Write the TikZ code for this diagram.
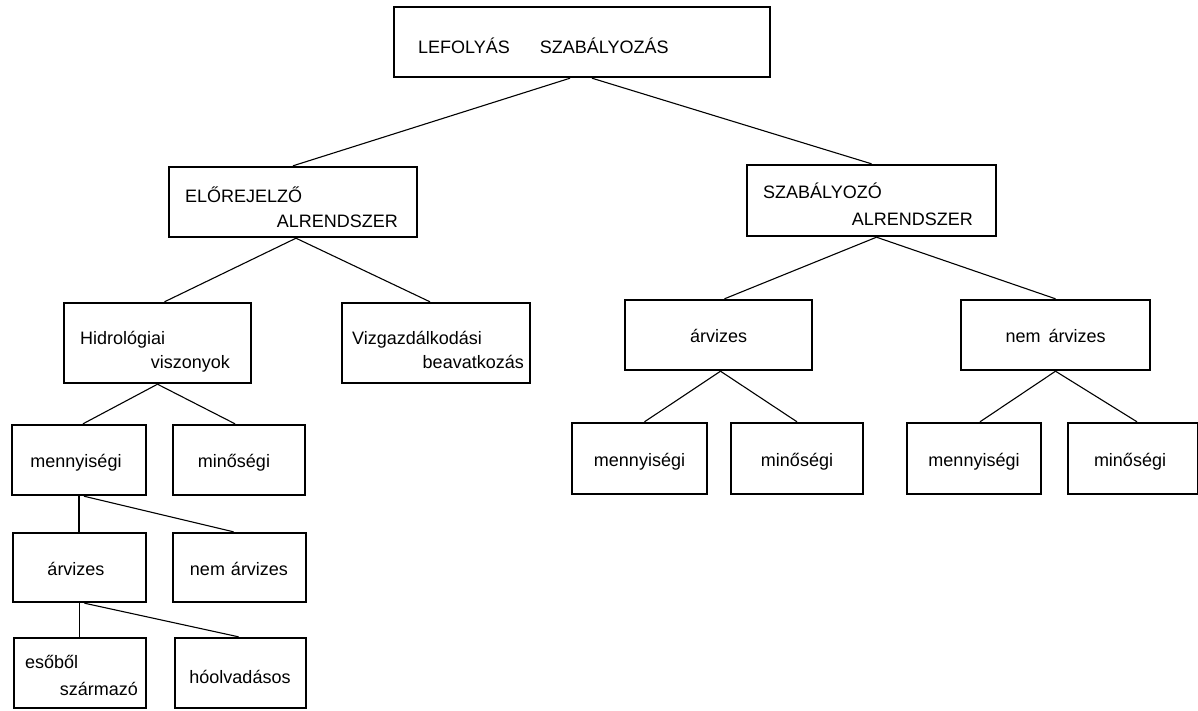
\documentclass[tikz,border=0pt]{standalone}
\usepackage{fontspec}
\setmainfont{Liberation Sans}
\begin{document}
\begin{tikzpicture}[x=1pt,y=-1pt,
  box/.style={draw=black,line width=2.4pt,rectangle,inner sep=0pt,minimum width=#1},
  box/.default=134pt,
  lbl/.style={font=\fontsize{18}{20}\selectfont,inner sep=0pt},
  conn/.style={line width=1.1pt,black}]
\useasboundingbox (0,0) rectangle (1198,710);
% boxes
\node[box=376pt,minimum height=70pt] (top) at (582,42) {};
\node[box=248pt,minimum height=70pt] (elo) at (293,202) {};
\node[box=249pt,minimum height=71pt] (szab) at (871.5,200.5) {};
\node[box=187pt,minimum height=80pt] (hidro) at (157.5,343) {};
\node[box=188pt,minimum height=80pt] (viz) at (436,343) {};
\node[box=187pt,minimum height=70pt] (arv) at (718.5,335) {};
\node[box=189pt,minimum height=70pt] (nemarv) at (1055.5,335) {};
\node[box=134pt,minimum height=70pt] (m1) at (79,460) {};
\node[box=132pt,minimum height=70pt] (q1) at (239,460) {};
\node[box=133pt,minimum height=69pt] (a1) at (79.5,567.5) {};
\node[box=133pt,minimum height=69pt] (na1) at (239.5,567.5) {};
\node[box=132pt,minimum height=70pt] (eso) at (80,673) {};
\node[box=131pt,minimum height=70pt] (ho) at (240.5,673) {};
\node[box=135pt,minimum height=71pt] (m2) at (639.5,458.5) {};
\node[box=132pt,minimum height=71pt] (q2) at (797,458.5) {};
\node[box=134pt,minimum height=71pt] (m3) at (974,458.5) {};
\node[box=130pt,minimum height=71pt] (q3) at (1133,458.5) {};
% texts
\node[lbl,anchor=base west] (ttop) at (418,53) {LEFOLYÁS\hspace{30pt}SZABÁLYOZÁS};
\node[lbl,anchor=base west] (telo1) at (185,202) {ELŐREJELZŐ};
\node[lbl,anchor=base east] (telo2) at (398,227) {ALRENDSZER};
\node[lbl,anchor=base west] (tszab1) at (763,198) {SZABÁLYOZÓ};
\node[lbl,anchor=base east] (tszab2) at (973,225) {ALRENDSZER};
\node[lbl,anchor=base west] (thidro1) at (80,344) {Hidrológiai};
\node[lbl,anchor=base east] (thidro2) at (230,368) {viszonyok};
\node[lbl,anchor=base west] (tviz1) at (352,344) {Vizgazdálkodási};
\node[lbl,anchor=base east] (tviz2) at (524,368) {beavatkozás};
\node[lbl,anchor=base] (tarv) at (718.5,342) {árvizes};
\node[lbl,anchor=base] (tnemarv) at (1055.5,342) {nem\hspace{8pt}árvizes};
\node[lbl,anchor=base] (tm1) at (76,467) {mennyiségi};
\node[lbl,anchor=base] (tq1) at (234,467) {minőségi};
\node[lbl,anchor=base] (ta1) at (76,575) {árvizes};
\node[lbl,anchor=base] (tna1) at (239,575) {nem\hspace{6pt}árvizes};
\node[lbl,anchor=base west] (teso1) at (25,668) {esőből};
\node[lbl,anchor=base east] (teso2) at (138,695) {származó};
\node[lbl,anchor=base] (tho) at (240,683) {hóolvadásos};
\node[lbl,anchor=base] (tm2) at (639.5,466) {mennyiségi};
\node[lbl,anchor=base] (tq2) at (797,466) {minőségi};
\node[lbl,anchor=base] (tm3) at (974,466) {mennyiségi};
\node[lbl,anchor=base] (tq3) at (1130,466) {minőségi};
% connectors
\draw[conn] ([xshift=-12pt]top.south) -- (elo.north);
\draw[conn] ([xshift=10pt]top.south) -- (szab.north);
\draw[conn] ([xshift=3pt]elo.south) -- ([xshift=7pt]hidro.north);
\draw[conn] ([xshift=3pt]elo.south) -- ([xshift=-6pt]viz.north);
\draw[conn] ([xshift=5pt]szab.south) -- ([xshift=6pt]arv.north);
\draw[conn] ([xshift=5pt]szab.south) -- (nemarv.north);
\draw[conn] (hidro.south) -- ([xshift=4pt]m1.north);
\draw[conn] (hidro.south) -- ([xshift=-4pt]q1.north);
\draw[conn] (m1.south) -- (m1.south |- a1.north);
\draw[conn] ([xshift=5pt]m1.south) -- ([xshift=-6pt]na1.north);
\draw[conn] (a1.south) -- (a1.south |- eso.north);
\draw[conn] ([xshift=5pt]a1.south) -- ([xshift=-2pt]ho.north);
\draw[conn] ([xshift=2pt]arv.south) -- ([xshift=5pt]m2.north);
\draw[conn] ([xshift=2pt]arv.south) -- (q2.north);
\draw[conn] (nemarv.south) -- ([xshift=6pt]m3.north);
\draw[conn] (nemarv.south) -- ([xshift=4pt]q3.north);
\end{tikzpicture}
\end{document}
